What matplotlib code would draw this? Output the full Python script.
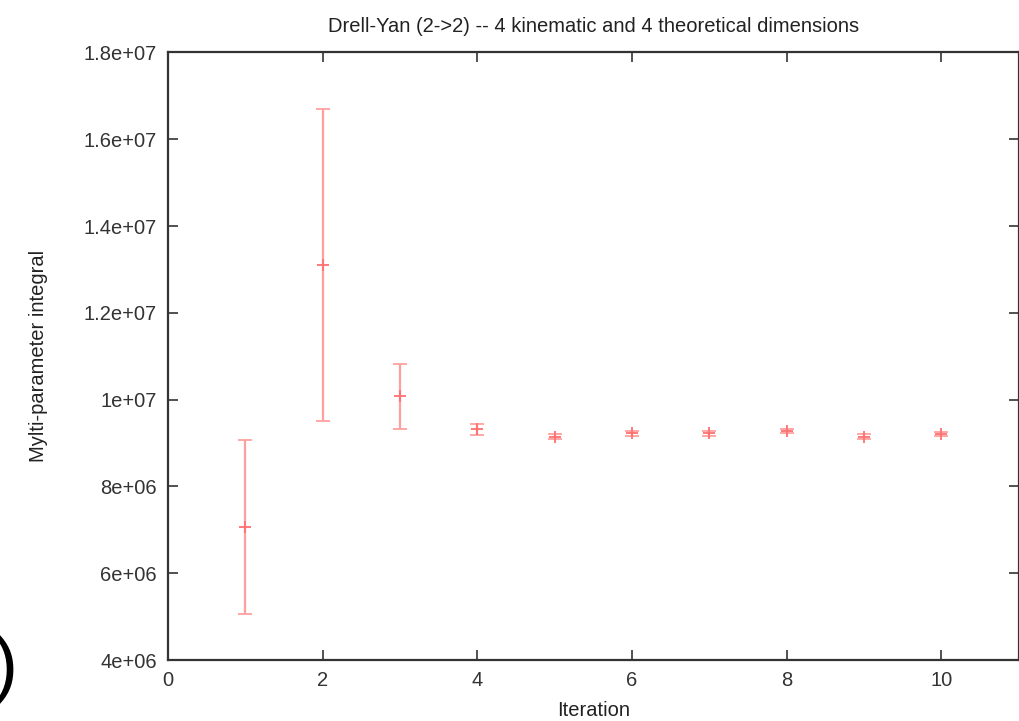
import matplotlib.pyplot as plt

plt.rcParams['font.family'] = ['Liberation Sans', 'DejaVu Sans']

iterations = [1, 2, 3, 4, 5, 6, 7, 8, 9, 10]
integral = [7.07e6, 1.310e7, 1.008e7, 9.32e6, 9.15e6, 9.22e6, 9.22e6, 9.28e6, 9.15e6, 9.21e6]
errors = [2.0e6, 3.6e6, 0.75e6, 0.13e6, 0.06e6, 0.06e6, 0.05e6, 0.05e6, 0.06e6, 0.04e6]

x_ticks = [0, 2, 4, 6, 8, 10]
y_ticks = [4e6, 6e6, 8e6, 1e7, 1.2e7, 1.4e7, 1.6e7, 1.8e7]
y_labels = ['4e+06', '6e+06', '8e+06', '1e+07', '1.2e+07', '1.4e+07', '1.6e+07', '1.8e+07']

fig = plt.figure(figsize=(10.2, 7.21), dpi=100)
ax = fig.add_axes([0.1647, 0.0846, 0.834, 0.8426])

ax.errorbar(iterations, integral, yerr=errors, fmt='+', color='#ff7070',
            ecolor='#ffa0a0', elinewidth=1.6, capsize=5, capthick=1.6,
            markersize=8, markeredgewidth=1.3)

ax.set_xlim(0, 11)
ax.set_ylim(4e6, 1.8e7)
ax.set_xticks(x_ticks)
ax.set_yticks(y_ticks)
ax.set_yticklabels(y_labels)

# gnuplot-like inward mirrored ticks
ax.tick_params(direction='in', length=7, width=1.2, top=True, right=True,
               labelsize=14.5, colors='#333333', pad=8)
ax.tick_params(axis='x', pad=8)
for s in ax.spines.values():
    s.set_linewidth(1.6)
    s.set_color('#333333')

ax.set_title("Drell-Yan (2->2) -- 4 kinematic and 4 theoretical dimensions",
             fontsize=14.5, color='#222222', pad=15)
ax.set_xlabel("Iteration", fontsize=14.5, color='#222222', labelpad=8)
ax.set_ylabel("Mylti-parameter integral", fontsize=14.5, color='#222222', labelpad=26)

# stray glyph at bottom left edge of the original image
fig.text(-0.007, 0.045, ")", fontsize=54, color='black')

fig.savefig('out.png', dpi=100)
